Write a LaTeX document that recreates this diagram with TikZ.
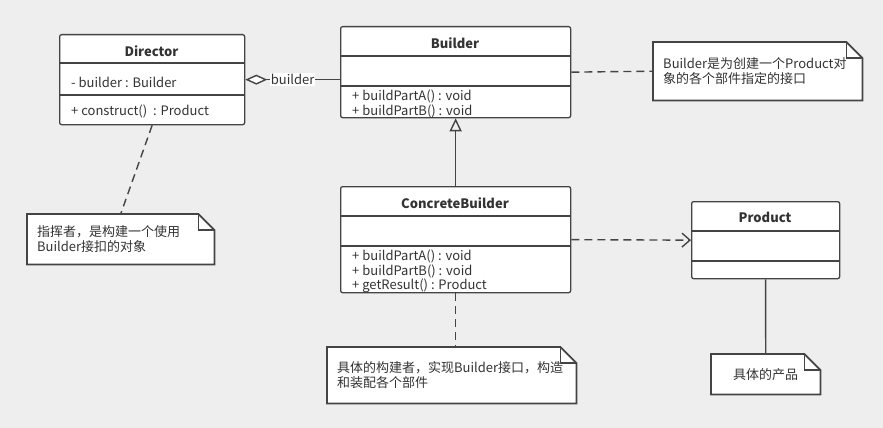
\documentclass[tikz,border=0pt]{standalone}
\usepackage{fontspec}
\setmainfont{Noto Sans CJK SC}
\usetikzlibrary{calc, arrows.meta}

\definecolor{bg}{HTML}{EEEEEE}
\definecolor{ink}{HTML}{444444}
\definecolor{txt}{HTML}{333333}

\tikzset{
	cls/.style = {draw = ink, fill = white, rectangle, rounded corners = 2pt, line width = 1.3pt, anchor = north west, inner sep = 0pt},
	title/.style = {font = \fontsize{13}{15}\selectfont\bfseries, text = txt},
	member/.style = {anchor = west, inner sep = 0pt, text = txt},
	note/.style = {fill = white, rectangle, anchor = north west, inner xsep = 10pt, inner ysep = 0pt, align = left, text = txt},
	conn/.style = {draw = ink, line width = 1.4pt},
	link/.style = {conn, dash pattern = on 8pt off 5pt},
}

% separators of a class box
\newcommand{\classlines}[3]{
	\draw[ink, line width = 1.3pt] ($(#1.north west) + (0, #2)$) -- ($(#1.north east) + (0, #2)$);
	\draw[ink, line width = 1.3pt] ($(#1.north west) + (0, #3)$) -- ($(#1.north east) + (0, #3)$);
}

% note outline with folded corner
\newcommand{\dogear}[1]{
	\fill[bg] ($(#1.north east) + (-16, 0)$) -- ($(#1.north east) + (1, -1)$) -- ($(#1.north east) + (0, 16)$) -- cycle;
	\draw[ink, line width = 1.7pt] (#1.north west) -- ($(#1.north east) + (-16, 0)$) -- ($(#1.north east) + (0, 16)$) -- (#1.south east) -- (#1.south west) -- cycle;
	\draw[ink, line width = 1.7pt] ($(#1.north east) + (-16, 0)$) -- ++(0, 16) -- ++(16, 0);
}

\begin{document}
\begin{tikzpicture}[x = 1pt, y = -1pt, font = \fontsize{13}{15}\selectfont]
	\fill[bg] (0, 0) rectangle (883, 428);
	\useasboundingbox (0, 0) rectangle (883, 428);

	% classes
	\node[cls, minimum width = 185pt, minimum height = 90pt] (director) at (59, 34){};
	\classlines{director}{29}{61}
	\node[title] at (151.5, 51){Director};
	\node[member] at (71, 82){- builder : Builder};
	\node[member] at (71, 111){+ construct()\ \ : Product};

	\node[cls, minimum width = 230pt, minimum height = 91pt] (builder) at (340, 26){};
	\classlines{builder}{30}{60}
	\node[title] at (455, 43){Builder};
	\node[member] at (352, 96){+ buildPartA() : void};
	\node[member] at (352, 111){+ buildPartB() : void};

	\node[cls, minimum width = 230pt, minimum height = 106pt] (concrete) at (340, 186){};
	\classlines{concrete}{30}{60}
	\node[title] at (455, 203){ConcreteBuilder};
	\node[member] at (352, 256){+ buildPartA() : void};
	\node[member] at (352, 271){+ buildPartB() : void};
	\node[member] at (352, 286){+ getResult() : Product};

	\node[cls, minimum width = 148pt, minimum height = 77pt] (product) at (691, 201){};
	\classlines{product}{30}{60}
	\node[title] at (765, 217){Product};

	% notes
	\node[note, text width = 189pt, minimum height = 58pt] (bnote) at (653, 42){Builder是为创建一个Product对\\象的各个部件指定的接口};
	\dogear{bnote}
	\node[note, text width = 167pt, minimum height = 50pt] (dnote) at (27, 214){指挥者，是构建一个使用\\Builder接扣的对象};
	\dogear{dnote}
	\node[note, text width = 229pt, minimum height = 56pt] (cnote) at (327, 347){具体的构建者，实现Builder接口，构造\\和装配各个部件};
	\dogear{cnote}
	\node[note, align = center, minimum width = 109pt, minimum height = 40pt] (pnote) at (711, 354){具体的产品};
	\dogear{pnote}

	% relations
	\draw[conn, {Diamond[fill = white, length = 22pt, width = 10pt]}-] (director.east) -- node[fill = white, inner sep = 1pt, text = txt]{builder} (director.east -| builder.west);
	\draw[conn, -{Triangle[open, length = 13pt, width = 12pt]}] (concrete) -- (builder);
	\draw[link, -{Straight Barb[length = 8pt, width = 14pt]}] (concrete.east) -- (product.west);

	\draw[link] (builder.east) -- (bnote.west);
	\draw[link] (director.south) -- (dnote.north);
	\draw[link] (concrete.south) -- (concrete.south |- cnote.north);
	\draw[conn] (product.south) -- (pnote.north);
\end{tikzpicture}
\end{document}
